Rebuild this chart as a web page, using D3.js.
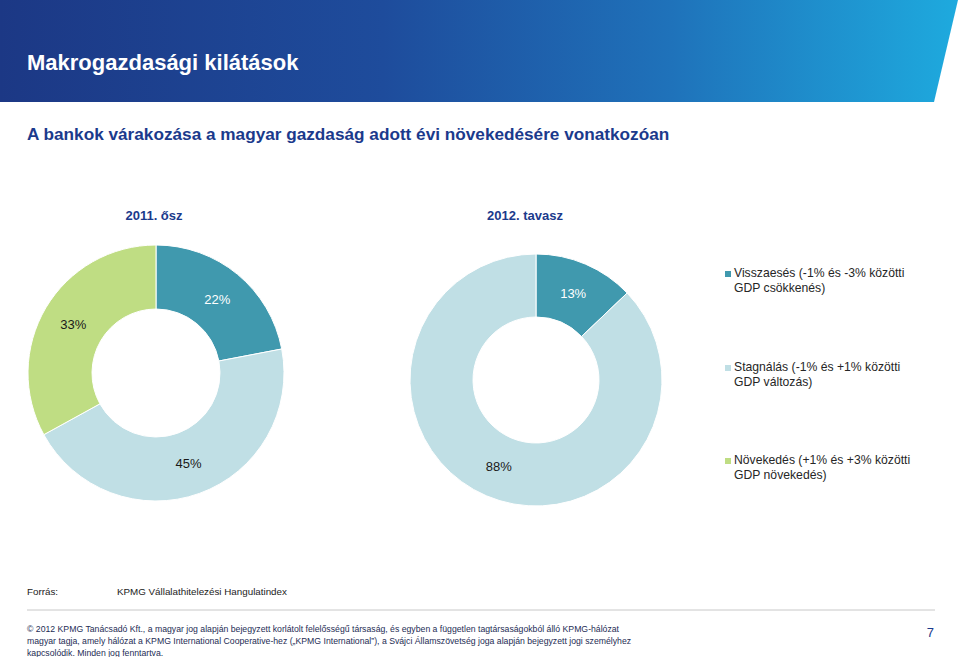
<!DOCTYPE html>
<html><head><meta charset="utf-8">
<script src="https://cdn.jsdelivr.net/npm/d3@7"></script>
<style>
html,body{margin:0;padding:0;background:#fff;}
svg{display:block;font-family:"Liberation Sans",Arial,sans-serif;}
</style></head>
<body>
<svg id="chart" width="960" height="657"></svg>
<script>
const pageTitle = "Makrogazdasági kilátások";
const subTitle = "A bankok várakozása a magyar gazdaság adott évi növekedésére vonatkozóan";
const periods = ["2011. ősz", "2012. tavasz"];
const categories = ["Visszaesés", "Stagnálás", "Növekedés"];
const legendLines = [
  ["Visszaesés (-1% és -3% közötti", "GDP csökkenés)"],
  ["Stagnálás (-1% és +1% közötti", "GDP változás)"],
  ["Növekedés (+1% és +3% közötti", "GDP növekedés)"]
];
const values2011 = [22, 45, 33];
const values2012 = [13, 88, 0];
const colors = ["#4099ae", "#c0dfe5", "#bfdd83"];
const labelColors = ["#ffffff", "#1a1a1a", "#1a1a1a"];
const sourceLabel = "Forrás:";
const sourceText = "KPMG Vállalathitelezési Hangulatindex";
const footerLines = [
  "© 2012 KPMG Tanácsadó Kft., a magyar jog alapján bejegyzett korlátolt felelősségű társaság, és egyben a független tagtársaságokból álló KPMG-hálózat",
  "magyar tagja, amely hálózat a KPMG International Cooperative-hez (\u201EKPMG International\u201D), a Svájci Államszövetség joga alapján bejegyzett jogi személyhez",
  "kapcsolódik. Minden jog fenntartva."
];
const pageNumber = "7";

const svg = d3.select("#chart");
const defs = svg.append("defs");
const grad = defs.append("linearGradient").attr("id", "hdr").attr("x1", "0").attr("x2", "1").attr("y1", "0").attr("y2", "0");
[["0", "#1c3885"], ["0.4", "#1e4c9c"], ["0.7", "#1f72ba"], ["1", "#1eaade"]].forEach(s =>
  grad.append("stop").attr("offset", s[0]).attr("stop-color", s[1]));

// header band
svg.append("path").attr("d", "M0,0 L958,0 L934,102 L0,102 Z").attr("fill", "url(#hdr)");
svg.append("text").attr("x", 27).attr("y", 70).attr("fill", "#fff")
  .attr("font-size", 22).attr("font-weight", "bold").text(pageTitle);

svg.append("text").attr("x", 27).attr("y", 140).attr("fill", "#1b3a8c")
  .attr("font-size", 17.2).attr("font-weight", "bold").text(subTitle);

const pies = [
  {values: values2011, cx: 156, cy: 373, r: 128, titleX: 154},
  {values: values2012, cx: 536, cy: 380, r: 126, titleX: 525}
];

const pie = d3.pie().sort(null).value(d => d.v).startAngle(0).endAngle(2 * Math.PI);

pies.forEach((p, i) => {
  svg.append("text").attr("x", p.titleX).attr("y", 220).attr("text-anchor", "middle")
    .attr("fill", "#1b3a8c").attr("font-size", 13).attr("font-weight", "bold").text(periods[i]);
  const data = p.values.map((v, k) => ({v: v, k: k}));
  const arcs = pie(data).filter(a => a.data.v > 0);
  const arc = d3.arc().innerRadius(p.r * 0.5).outerRadius(p.r);
  const g = svg.append("g").attr("transform", `translate(${p.cx},${p.cy})`);
  g.selectAll("path").data(arcs).join("path")
    .attr("d", arc).attr("fill", d => colors[d.data.k])
    .attr("stroke", "#fff").attr("stroke-width", 1);
  const labelArc = d3.arc().innerRadius(p.r * 0.75).outerRadius(p.r * 0.75);
  g.selectAll("text").data(arcs).join("text")
    .attr("transform", d => `translate(${labelArc.centroid(d)})`)
    .attr("dy", "0.35em").attr("text-anchor", "middle")
    .attr("font-size", 13).attr("fill", d => labelColors[d.data.k])
    .text(d => d.data.v + "%");
});

// legend
const legendY = [277, 371, 464];
legendLines.forEach((lines, k) => {
  svg.append("rect").attr("x", 725).attr("y", legendY[k] - 6).attr("width", 6).attr("height", 6)
    .attr("fill", colors[k]);
  lines.forEach((t, j) => {
    svg.append("text").attr("x", 734).attr("y", legendY[k] + j * 15)
      .attr("font-size", 12.2).attr("fill", "#262626").text(t);
  });
});

// source
svg.append("text").attr("x", 27).attr("y", 595).attr("font-size", 9.8).attr("fill", "#222").text(sourceLabel);
svg.append("text").attr("x", 117).attr("y", 595).attr("font-size", 9.8).attr("fill", "#222").text(sourceText);

svg.append("line").attr("x1", 27).attr("x2", 935).attr("y1", 610).attr("y2", 610)
  .attr("stroke", "#c8c8c8").attr("stroke-width", 1);

footerLines.forEach((t, j) => {
  svg.append("text").attr("x", 27).attr("y", 632 + j * 12).attr("font-size", 8.7)
    .attr("fill", "#1e2d55").text(t);
});
svg.append("text").attr("x", 934).attr("y", 637).attr("text-anchor", "end")
  .attr("font-size", 13).attr("fill", "#1b3a8c").text(pageNumber);
</script>
</body></html>
